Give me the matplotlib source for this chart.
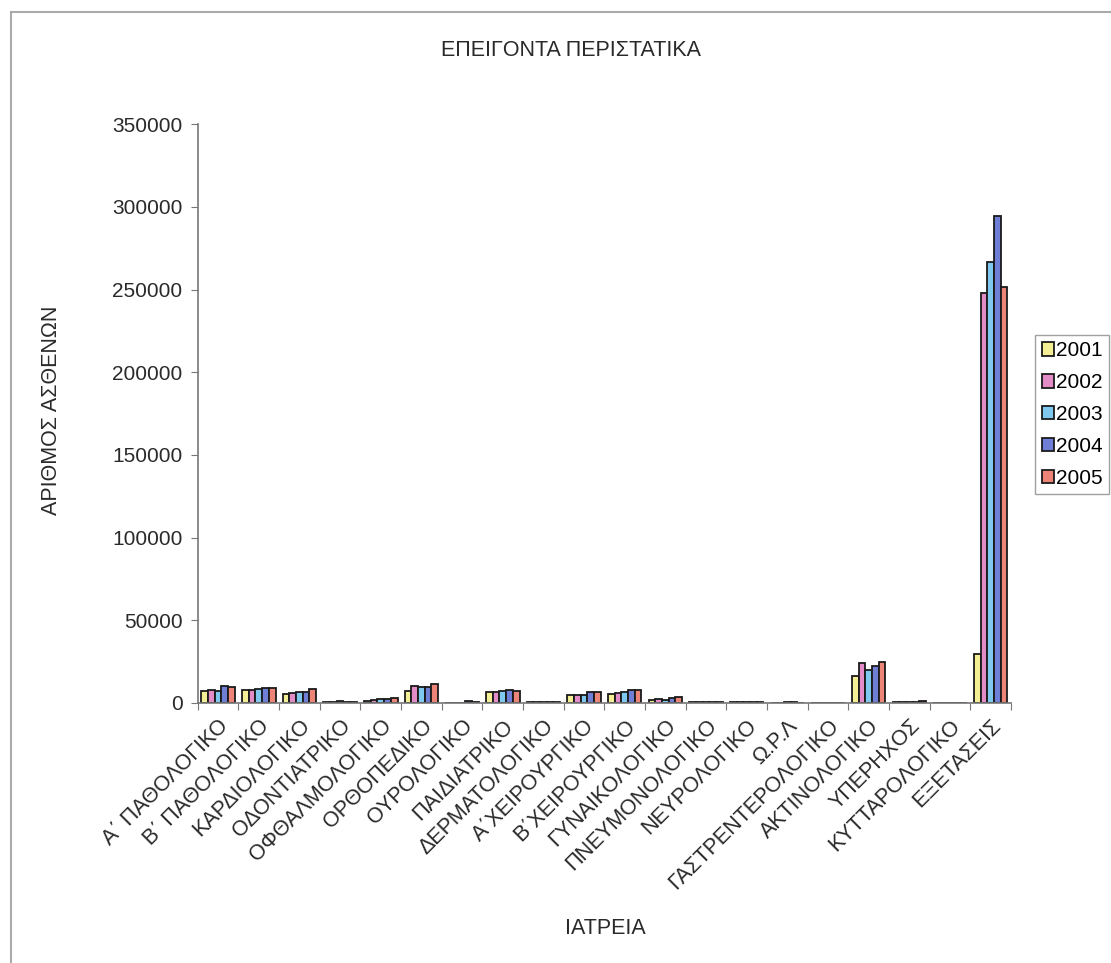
import numpy as np
import matplotlib
matplotlib.use("Agg")
import matplotlib.pyplot as plt
from matplotlib.patches import Rectangle

plt.rcParams['font.family'] = ['Liberation Sans', 'DejaVu Sans']

clinics = ["Α΄ ΠΑΘΟΛΟΓΙΚΟ", "Β΄ ΠΑΘΟΛΟΓΙΚΟ", "ΚΑΡΔΙΟΛΟΓΙΚΟ", "ΟΔΟΝΤΙΑΤΡΙΚΟ",
           "ΟΦΘΑΛΜΟΛΟΓΙΚΟ", "ΟΡΘΟΠΕΔΙΚΟ", "ΟΥΡΟΛΟΓΙΚΟ", "ΠΑΙΔΙΑΤΡΙΚΟ",
           "ΔΕΡΜΑΤΟΛΟΓΙΚΟ", "Α΄ΧΕΙΡΟΥΡΓΙΚΟ", "Β΄ΧΕΙΡΟΥΡΓΙΚΟ", "ΓΥΝΑΙΚΟΛΟΓΙΚΟ",
           "ΠΝΕΥΜΟΝΟΛΟΓΙΚΟ", "ΝΕΥΡΟΛΟΓΙΚΟ", "Ω.Ρ.Λ", "ΓΑΣΤΡΕΝΤΕΡΟΛΟΓΙΚΟ",
           "ΑΚΤΙΝΟΛΟΓΙΚΟ", "ΥΠΕΡΗΧΟΣ", "ΚΥΤΤΑΡΟΛΟΓΙΚΟ", "ΕΞΕΤΑΣΕΙΣ"]

years = ["2001", "2002", "2003", "2004", "2005"]

y2001 = [7500, 7700, 5200, 800, 1200, 7300, 0, 6600, 400, 4800,
         5400, 2000, 300, 300, 0, 200, 16300, 300, 200, 29600]
y2002 = [7800, 7700, 6000, 900, 1600, 10100, 0, 6600, 400, 4800,
         5800, 2400, 300, 300, 200, 200, 24000, 500, 200, 248000]
y2003 = [7500, 8700, 6600, 1000, 2200, 9700, 0, 7300, 300, 4800,
         6400, 2000, 400, 400, 700, 200, 20000, 600, 200, 266700]
y2004 = [10000, 9300, 6600, 900, 2200, 9700, 1200, 7700, 300, 6400,
         7900, 2800, 500, 400, 500, 200, 22400, 700, 200, 294400]
y2005 = [9500, 9300, 8700, 800, 2800, 11300, 300, 7300, 300, 6400,
         7900, 3400, 500, 400, 200, 200, 25000, 1200, 200, 251500]

series = [y2001, y2002, y2003, y2004, y2005]
colors = ["#f4ee94", "#e38cc8", "#7fc8f0", "#6f7fd6", "#ec8478"]
txt = "#2a2a2a"

fig = plt.figure(figsize=(11.11, 9.63), dpi=100)
ax = fig.add_axes([0.178, 0.270, 0.732, 0.601])

x = np.arange(len(clinics))
w = 0.165
for i, (vals, c) in enumerate(zip(series, colors)):
    ax.bar(x + (i - 2) * w, vals, w, color=c, edgecolor="#1a1a1a",
           linewidth=1.3, label=years[i])

ax.set_xlim(-0.5, len(clinics) - 0.5)
ax.set_ylim(0, 350000)
ax.set_yticks(np.arange(0, 350001, 50000))
ax.set_yticklabels([str(v) for v in range(0, 350001, 50000)], fontsize=15, color=txt)
# group boundaries carry the tick marks, group centres carry the names
ax.set_xticks(np.arange(-0.5, len(clinics), 1), minor=False)
ax.set_xticklabels([])
ax.set_xticks(x, minor=True)
ax.set_xticklabels(clinics, minor=True, rotation=45, ha="right",
                   rotation_mode="anchor", fontsize=15.5, color=txt)
ax.tick_params(axis="x", which="minor", length=0, pad=9)
ax.tick_params(axis="x", which="major", length=5, color="#777777", direction="out")
ax.tick_params(axis="y", length=5, color="#777777", direction="out", pad=6)

for s in ["top", "right"]:
    ax.spines[s].set_visible(False)
for s in ["left", "bottom"]:
    ax.spines[s].set_color("#777777")
    ax.spines[s].set_linewidth(1.2)

fig.text(0.514, 0.948, "ΕΠΕΙΓΟΝΤΑ ΠΕΡΙΣΤΑΤΙΚΑ", ha="center", va="center",
         fontsize=15.5, color=txt)
fig.text(0.046, 0.574, "ΑΡΙΘΜΟΣ ΑΣΘΕΝΩΝ", rotation=90, ha="center", va="center",
         fontsize=15.5, color=txt)
fig.text(0.545, 0.036, "ΙΑΤΡΕΙΑ", ha="center", va="center",
         fontsize=15.5, color=txt)

leg = fig.legend(loc="upper left", bbox_to_anchor=(0.932, 0.652), fontsize=15,
                 frameon=True, fancybox=False, edgecolor="#888888",
                 handlelength=0.6, handleheight=0.6, handletextpad=0.1,
                 borderpad=0.3, labelspacing=0.62, borderaxespad=0)
leg.get_frame().set_linewidth(1.0)

# outer chart frame
fig.patches.append(Rectangle((0.0095, -0.05), 1.1, 1.038, transform=fig.transFigure,
                             fill=False, edgecolor="#aaaaaa", linewidth=1.5))

fig.savefig("out.png", dpi=100, facecolor="white")
